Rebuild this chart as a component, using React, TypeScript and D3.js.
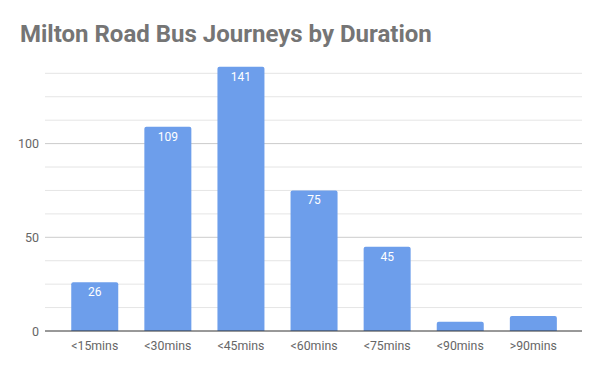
import React from "react";
import * as d3 from "d3";

const categories = ["<15mins", "<30mins", "<45mins", "<60mins", "<75mins", "<90mins", ">90mins"];
const values = [26, 109, 141, 75, 45, 5, 8];
const showLabel = [true, true, true, true, true, false, false];
const yTicks = [0, 50, 100];
const gridValues = [12.5, 25, 37.5, 50, 62.5, 75, 87.5, 100, 112.5, 125, 137.5];

const W = 600;
const H = 371;
const left = 45;
const right = 582;
const base = 331;

export default function App() {
  const y = d3.scaleLinear().domain([0, 50]).range([base, 237.3]);
  const x = d3
    .scaleBand<string>()
    .domain(categories)
    .range([58.2, 569.9])
    .paddingInner(0.357)
    .paddingOuter(0.357 / 2);
  const bw = x.bandwidth();
  const r = 2;
  const barPath = (x0: number, y0: number, w: number, h: number) =>
    `M${x0},${y0 + h}V${y0 + r}Q${x0},${y0} ${x0 + r},${y0}H${x0 + w - r}Q${x0 + w},${y0} ${x0 + w},${y0 + r}V${y0 + h}Z`;
  return (
    <svg width={W} height={H} style={{ position: "absolute", left: 0, top: 0, background: "#fff" }}
      fontFamily="Roboto, sans-serif">
      <text x={20} y={42} fontSize={24} fontWeight="bold" fill="#757575">
        Milton Road Bus Journeys by Duration
      </text>
      {gridValues.map((g) => (
        <line key={g} x1={left} x2={right} y1={y(g)} y2={y(g)}
          stroke={g % 50 === 0 ? "#cccccc" : "#e5e5e5"} strokeWidth={1} />
      ))}
      {yTicks.map((t) => (
        <text key={t} x={39} y={y(t) + 4.5} fontSize={12.5} fill="#666" textAnchor="end">
          {t}
        </text>
      ))}
      {values.map((v, i) => {
        const bx = x(categories[i])!;
        const top = y(v);
        return (
          <g key={categories[i]}>
            <path d={barPath(bx, top, bw, base - top)} fill="#6d9eeb" />
            {showLabel[i] && (
              <text x={bx + bw / 2} y={top + 14} fontSize={12} fill="#fff" textAnchor="middle">
                {v}
              </text>
            )}
          </g>
        );
      })}
      <line x1={left} x2={right} y1={base} y2={base} stroke="#333" strokeWidth={1} />
      {categories.map((c) => (
        <text key={c} x={x(c)! + bw / 2} y={350} fontSize={12.3} fill="#666" textAnchor="middle">
          {c}
        </text>
      ))}
    </svg>
  );
}
